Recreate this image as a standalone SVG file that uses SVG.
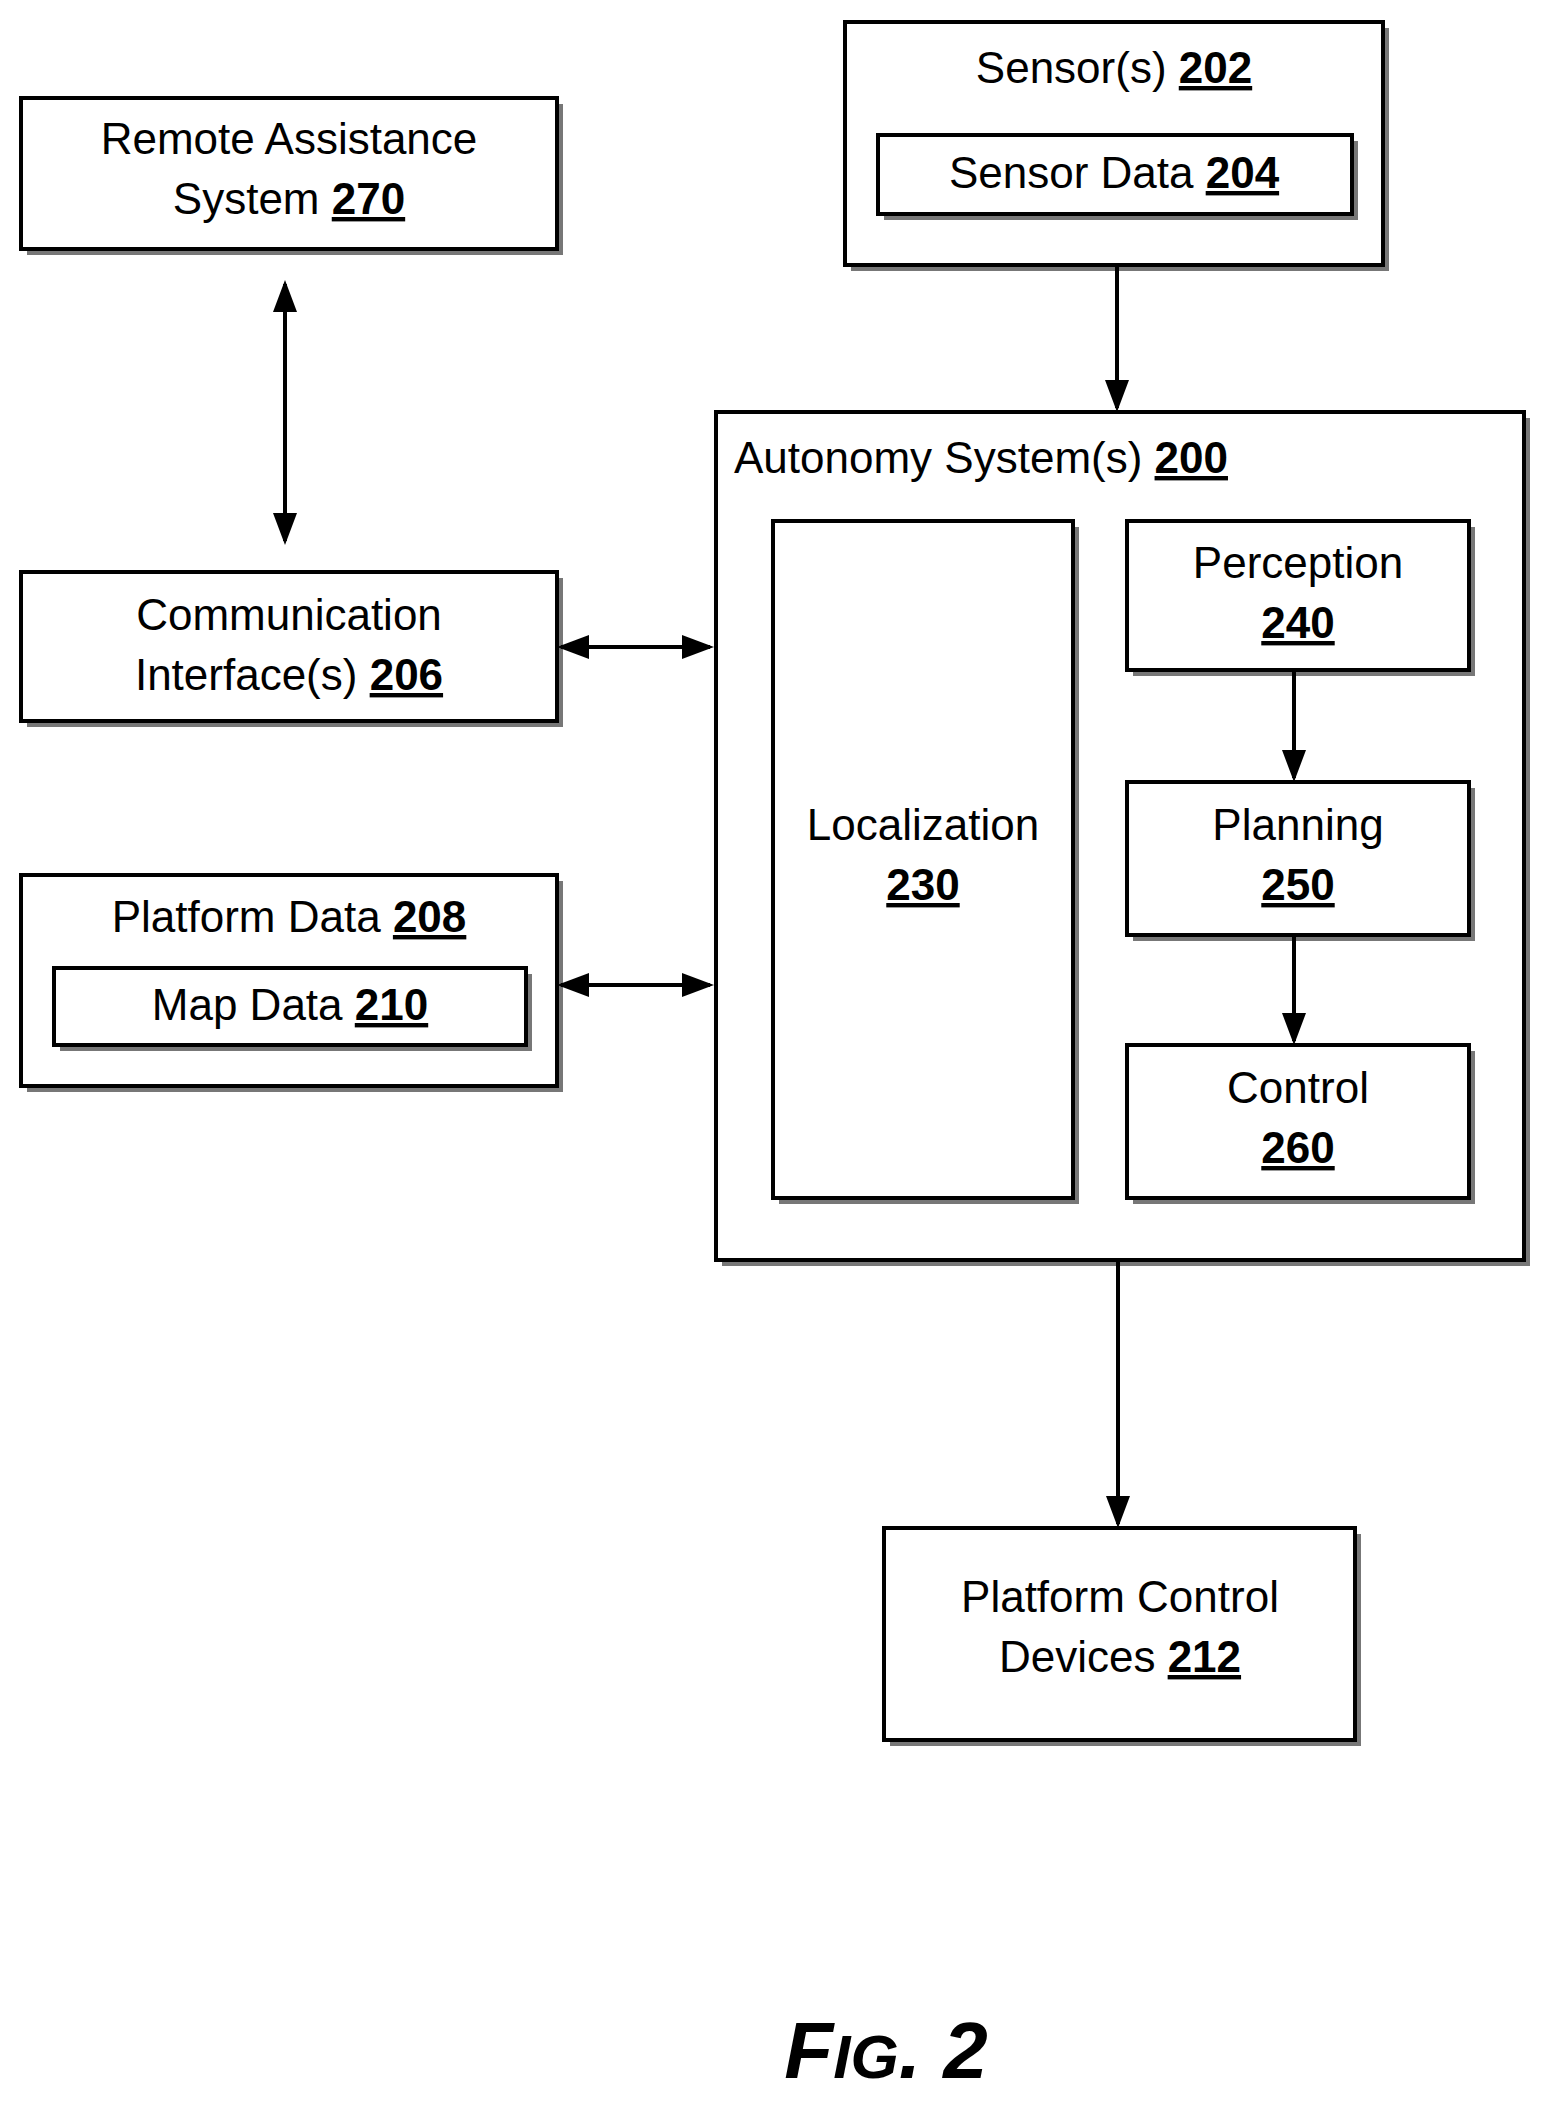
<svg xmlns="http://www.w3.org/2000/svg" width="1552" height="2106" viewBox="0 0 1552 2106">
<style>
.b{fill:#fff;stroke:#000;stroke-width:4}
.s{fill:#777}
text{font-family:"Liberation Sans",Arial,sans-serif;font-size:44px;text-anchor:middle;fill:#000}
.n{font-weight:bold;text-decoration:underline}
.c{stroke:#000;stroke-width:4;fill:none}
</style>
<defs>
<marker id="a" markerWidth="8" markerHeight="8" refX="7" refY="4" orient="auto-start-reverse" markerUnits="strokeWidth"><path d="M0,1 L8,4 L0,7 Z" fill="#000"/></marker>
</defs>
<rect width="1552" height="2106" fill="#fff"/>
<g id="remote"><rect class="s" x="27" y="104" width="536" height="151"/><rect class="b" x="21" y="98" width="536" height="151"/><text x="289" y="154">Remote Assistance</text><text x="289" y="214">System <tspan class="n">270</tspan></text></g>
<g id="sensors"><rect class="s" x="851" y="28" width="538" height="243"/><rect class="b" x="845" y="22" width="538" height="243"/><text x="1114" y="83">Sensor(s) <tspan class="n">202</tspan></text>
<g id="sensordata"><rect class="s" x="884" y="141" width="474" height="79"/><rect class="b" x="878" y="135" width="474" height="79"/><text x="1114" y="188">Sensor Data <tspan class="n">204</tspan></text></g></g>
<g id="autonomy"><rect class="s" x="722" y="418" width="808" height="848"/><rect class="b" x="716" y="412" width="808" height="848"/><text x="734" y="473" style="text-anchor:start">Autonomy System(s) <tspan class="n">200</tspan></text></g>
<g id="localization"><rect class="s" x="779" y="527" width="300" height="677"/><rect class="b" x="773" y="521" width="300" height="677"/><text x="923" y="840">Localization</text><text x="923" y="900" class="n">230</text></g>
<g id="perception"><rect class="s" x="1133" y="527" width="342" height="149"/><rect class="b" x="1127" y="521" width="342" height="149"/><text x="1298" y="578">Perception</text><text x="1298" y="638" class="n">240</text></g>
<g id="planning"><rect class="s" x="1133" y="788" width="342" height="153"/><rect class="b" x="1127" y="782" width="342" height="153"/><text x="1298" y="840">Planning</text><text x="1298" y="900" class="n">250</text></g>
<g id="control"><rect class="s" x="1133" y="1051" width="342" height="153"/><rect class="b" x="1127" y="1045" width="342" height="153"/><text x="1298" y="1103">Control</text><text x="1298" y="1163" class="n">260</text></g>
<g id="comm"><rect class="s" x="27" y="578" width="536" height="149"/><rect class="b" x="21" y="572" width="536" height="149"/><text x="289" y="630">Communication</text><text x="289" y="690">Interface(s) <tspan class="n">206</tspan></text></g>
<g id="platformdata"><rect class="s" x="27" y="881" width="536" height="211"/><rect class="b" x="21" y="875" width="536" height="211"/><text x="289" y="932">Platform Data <tspan class="n">208</tspan></text>
<g id="mapdata"><rect class="s" x="60" y="974" width="472" height="77"/><rect class="b" x="54" y="968" width="472" height="77"/><text x="290" y="1020">Map Data <tspan class="n">210</tspan></text></g></g>
<g id="pcd"><rect class="s" x="890" y="1534" width="471" height="212"/><rect class="b" x="884" y="1528" width="471" height="212"/><text x="1120" y="1612">Platform Control</text><text x="1120" y="1672">Devices <tspan class="n">212</tspan></text></g>
<g id="connectors">
<line class="c" x1="1117" y1="265" x2="1117" y2="408" marker-end="url(#a)"/>
<line class="c" x1="285" y1="284" x2="285" y2="541" marker-start="url(#a)" marker-end="url(#a)"/>
<line class="c" x1="561" y1="647" x2="710" y2="647" marker-start="url(#a)" marker-end="url(#a)"/>
<line class="c" x1="561" y1="985" x2="710" y2="985" marker-start="url(#a)" marker-end="url(#a)"/>
<line class="c" x1="1294" y1="670" x2="1294" y2="778" marker-end="url(#a)"/>
<line class="c" x1="1294" y1="935" x2="1294" y2="1041" marker-end="url(#a)"/>
<line class="c" x1="1118" y1="1260" x2="1118" y2="1524" marker-end="url(#a)"/>
</g>
<text x="886" y="2078" style="font-style:italic;font-weight:bold;font-size:80px">F<tspan style="font-size:62px">IG</tspan>. 2</text>
</svg>
